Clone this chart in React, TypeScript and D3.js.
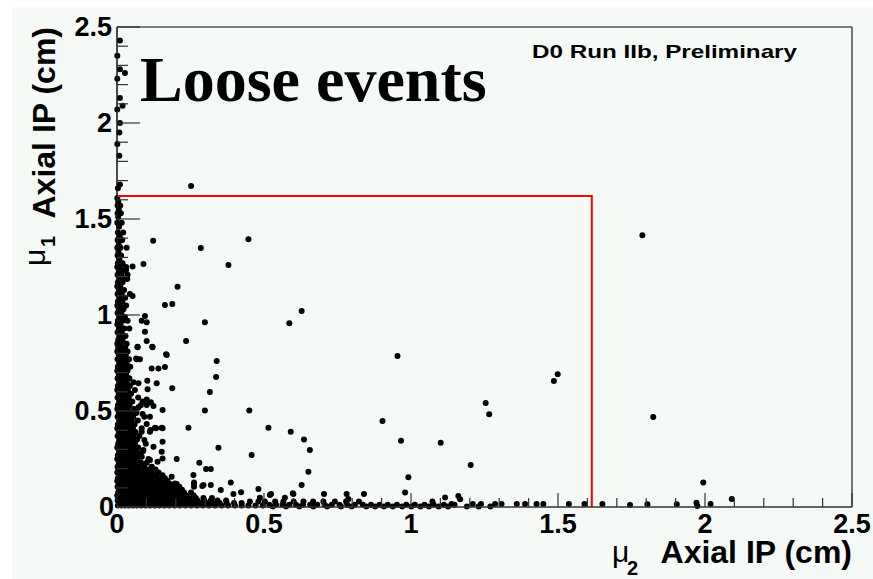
import React from 'react';
import * as d3 from 'd3';

const W = 873;
const H = 579;

const xTickValues = [0, 0.5, 1, 1.5, 2, 2.5];
const xTickLabels = ['0', '0.5', '1', '1.5', '2', '2.5'];
const yTickValues = [0, 0.5, 1, 1.5, 2, 2.5];
const yTickLabels = ['0', '0.5', '1', '1.5', '2', '2.5'];

const cutX = 1.615;
const cutY = 1.62;

const chartTitle = 'Loose events';
const experimentLabel = 'D0 Run IIb, Preliminary';
const xTitle = 'Axial IP (cm)';
const yTitle = 'Axial IP (cm)';

// sparse points along the mu1 axis above the cut
const axisTop: [number, number][] = [
  [0.010, 2.43], [0.001, 2.35], [0.010, 2.28], [0.027, 2.26], [0.001, 2.23],
  [0.010, 2.13], [0.019, 2.09], [0.001, 2.07], [0.010, 2.0], [0.008, 1.95],
  [0.001, 1.89], [0.008, 1.83], [0.010, 1.68], [0.003, 1.66], [0.252, 1.672],
];

// dense region near the axes: [mu1 IP, list of mu2 IP values]
const denseRows: [number, number[]][] = [
  [1.61, [0.001]], [1.59, [0.004]], [1.57, [0.002, 0.011]], [1.55, [0.006]],
  [1.53, [0.002, 0.013]], [1.51, [0.004]], [1.48, [0.001, 0.016]], [1.46, [0.007]],
  [1.43, [0.003, 0.021]], [1.41, [0.009]], [1.39, [0.002, 0.018]], [1.37, [0.006]],
  [1.35, [0.001, 0.012, 0.033]], [1.33, [0.005]], [1.31, [0.002, 0.014]], [1.29, [0.008]],
  [1.27, [0.003, 0.019]], [1.25, [0.001, 0.011, 0.031]], [1.23, [0.006, 0.024]],
  [1.21, [0.002, 0.015, 0.036]], [1.19, [0.008, 0.027]], [1.17, [0.003, 0.019]],
  [1.15, [0.001, 0.011]], [1.13, [0.006, 0.024]], [1.11, [0.002, 0.016, 0.044]],
  [1.09, [0.009, 0.028]], [1.07, [0.003, 0.018]], [1.05, [0.001, 0.012, 0.031]],
  [1.03, [0.006, 0.022]], [1.01, [0.002, 0.015]], [0.99, [0.009, 0.027]],
  [0.97, [0.003, 0.019, 0.036]], [0.95, [0.001, 0.012]], [0.93, [0.007, 0.025, 0.042]],
  [0.91, [0.002, 0.016]], [0.89, [0.010, 0.029]], [0.87, [0.004, 0.019]],
  [0.85, [0.001, 0.013, 0.033]],
  [0.83, [0.004, 0.016, 0.028]], [0.81, [0.001, 0.010, 0.022, 0.036]],
  [0.79, [0.006, 0.018, 0.030]], [0.77, [0.002, 0.013, 0.025, 0.041]],
  [0.75, [0.008, 0.020, 0.033]], [0.73, [0.003, 0.015, 0.027, 0.045]],
  [0.71, [0.001, 0.010, 0.022, 0.036]], [0.69, [0.006, 0.018, 0.031]],
  [0.67, [0.002, 0.013, 0.025, 0.042]], [0.65, [0.008, 0.020, 0.034, 0.056]],
  [0.63, [0.003, 0.015, 0.027, 0.044]], [0.61, [0.001, 0.011, 0.023, 0.037, 0.061]],
  [0.59, [0.006, 0.018, 0.030, 0.048]], [0.57, [0.002, 0.013, 0.026, 0.040, 0.072]],
  [0.55, [0.008, 0.020, 0.034, 0.052]], [0.53, [0.003, 0.015, 0.028, 0.043, 0.081]],
  [0.51, [0.001, 0.011, 0.023, 0.037, 0.058]], [0.49, [0.006, 0.018, 0.031, 0.047, 0.066]],
  [0.47, [0.002, 0.014, 0.026, 0.040, 0.055, 0.093]], [0.45, [0.008, 0.021, 0.035, 0.050, 0.071]],
  [0.43, [0.003, 0.016, 0.029, 0.043, 0.060]], [0.41, [0.001, 0.011, 0.024, 0.038, 0.054, 0.084]],
  [0.39, [0.006, 0.019, 0.032, 0.047, 0.063]], [0.37, [0.002, 0.014, 0.027, 0.041, 0.057, 0.076]],
  [0.35, [0.009, 0.022, 0.036, 0.051, 0.068]], [0.33, [0.004, 0.017, 0.030, 0.045, 0.061, 0.098]],
  [0.31, [0.001, 0.012, 0.025, 0.039, 0.054, 0.072]], [0.29, [0.007, 0.020, 0.034, 0.049, 0.066, 0.088]],
  [0.27, [0.003, 0.015, 0.028, 0.043, 0.059, 0.078]], [0.25, [0.001, 0.010, 0.023, 0.037, 0.052, 0.069, 0.107]],
  [0.23, [0.006, 0.018, 0.032, 0.047, 0.063, 0.082, 0.101]],
  [0.21, [0.002, 0.014, 0.027, 0.041, 0.057, 0.074, 0.093, 0.118]],
  [0.195, [0.005, 0.017, 0.030, 0.044, 0.059, 0.075, 0.092, 0.110, 0.131]],
  [0.18, [0.001, 0.011, 0.024, 0.038, 0.052, 0.067, 0.083, 0.100, 0.119, 0.142]],
  [0.165, [0.007, 0.020, 0.033, 0.047, 0.062, 0.078, 0.095, 0.113, 0.133, 0.155]],
  [0.15, [0.003, 0.015, 0.028, 0.042, 0.056, 0.071, 0.087, 0.104, 0.122, 0.141, 0.163]],
  [0.135, [0.001, 0.010, 0.023, 0.036, 0.050, 0.065, 0.080, 0.096, 0.113, 0.131, 0.150, 0.172]],
  [0.12, [0.006, 0.018, 0.031, 0.045, 0.059, 0.074, 0.089, 0.105, 0.122, 0.140, 0.159, 0.181, 0.203]],
  [0.105, [0.002, 0.013, 0.026, 0.039, 0.053, 0.067, 0.082, 0.097, 0.113, 0.130, 0.148, 0.167, 0.188, 0.212]],
  [0.09, [0.008, 0.020, 0.033, 0.047, 0.061, 0.075, 0.090, 0.106, 0.122, 0.139, 0.157, 0.176, 0.196, 0.221]],
  [0.075, [0.004, 0.015, 0.028, 0.041, 0.055, 0.069, 0.084, 0.099, 0.115, 0.131, 0.148, 0.166, 0.185, 0.205, 0.228, 0.252]],
  [0.06, [0.001, 0.011, 0.023, 0.036, 0.049, 0.063, 0.077, 0.092, 0.107, 0.123, 0.140, 0.157, 0.175, 0.194, 0.214, 0.236, 0.261]],
  [0.047, [0.006, 0.018, 0.031, 0.044, 0.058, 0.072, 0.086, 0.101, 0.117, 0.133, 0.149, 0.166, 0.184, 0.203, 0.223, 0.244, 0.268, 0.294, 0.323]],
  [0.034, [0.002, 0.014, 0.026, 0.039, 0.052, 0.066, 0.080, 0.095, 0.110, 0.125, 0.141, 0.158, 0.175, 0.193, 0.212, 0.231, 0.252, 0.274, 0.297, 0.319, 0.342, 0.371]],
  [0.021, [0.008, 0.020, 0.033, 0.046, 0.060, 0.074, 0.088, 0.103, 0.118, 0.134, 0.150, 0.167, 0.184, 0.202, 0.221, 0.240, 0.260, 0.281, 0.303, 0.326, 0.349, 0.373, 0.398, 0.424]],
  [0.008, [0.003, 0.015, 0.027, 0.040, 0.054, 0.068, 0.082, 0.097, 0.112, 0.128, 0.144, 0.161, 0.178, 0.196, 0.214, 0.233, 0.252, 0.272, 0.292, 0.313, 0.334, 0.356, 0.378, 0.401, 0.424, 0.447, 0.471, 0.496]],
  [0.028, [0.452, 0.481, 0.503, 0.538, 0.566, 0.601, 0.634, 0.667, 0.702, 0.741, 0.779, 0.823]],
  [0.012, [0.518, 0.541, 0.563, 0.586, 0.609, 0.633, 0.657, 0.681, 0.706, 0.731, 0.757, 0.783, 0.809, 0.836, 0.864, 0.893, 0.921, 0.952, 0.984, 1.013, 1.046, 1.077, 1.112, 1.148]],
  [0.003, [0.530, 0.575, 0.620, 0.668, 0.715, 0.762, 0.798, 0.848, 0.878, 0.908, 0.938, 0.970, 1.001, 1.032, 1.061, 1.094, 1.126, 1.19, 1.23, 1.27]],
  [0.015, [1.138, 1.210, 1.238, 1.286, 1.308, 1.360, 1.388, 1.427, 1.450, 1.537, 1.59]],
];

// isolated events: [mu2 IP, mu1 IP]
const scattered: [number, number][] = [
  [0.123, 1.387], [0.285, 1.349], [0.379, 1.26], [0.090, 1.266], [0.053, 1.252], [0.206, 1.147],
  [0.163, 1.052], [0.188, 1.057], [0.299, 0.962], [0.095, 0.995], [0.101, 0.962], [0.084, 0.970],
  [0.095, 0.913], [0.235, 0.865], [0.101, 0.865], [0.070, 0.835], [0.120, 0.835], [0.053, 1.099],
  [0.031, 1.234], [0.035, 1.188], [0.447, 1.394], [0.628, 1.021], [0.586, 0.957], [0.339, 0.760],
  [0.337, 0.677], [0.316, 0.599], [0.299, 0.502], [0.450, 0.503], [0.515, 0.413], [0.243, 0.413],
  [0.167, 0.795], [0.163, 0.729], [0.188, 0.618], [0.135, 0.644], [0.103, 0.658], [0.118, 0.722],
  [0.141, 0.722], [0.121, 0.832], [0.070, 0.832], [0.067, 0.769], [0.078, 0.769], [0.104, 0.613],
  [0.155, 0.505], [0.124, 0.526], [0.101, 0.531], [0.112, 0.470], [0.087, 0.484], [0.591, 0.392],
  [0.636, 0.352], [0.656, 0.297], [0.651, 0.184], [0.628, 0.115], [0.598, 0.071], [0.345, 0.309],
  [0.458, 0.271], [0.280, 0.231], [0.303, 0.198], [0.319, 0.198], [0.260, 0.167], [0.203, 0.250],
  [0.262, 0.127], [0.262, 0.106], [0.294, 0.115], [0.319, 0.115], [0.387, 0.128], [0.353, 0.089],
  [0.481, 0.094], [0.524, 0.068], [0.600, 0.068], [0.704, 0.068], [0.781, 0.068], [0.840, 0.068],
  [0.980, 0.075], [0.954, 0.786], [0.903, 0.448], [0.966, 0.345], [1.101, 0.335], [0.991, 0.155],
  [1.203, 0.219], [1.116, 0.050], [1.161, 0.057], [1.167, 0.040], [0.152, 0.413], [0.129, 0.413],
  [0.112, 0.392], [0.101, 0.432], [0.422, 0.077], [0.396, 0.068], [0.571, 0.048], [0.787, 0.042],
  [0.486, 0.048], [0.520, 0.062], [1.073, 0.028], [1.499, 0.691], [1.486, 0.656], [1.254, 0.542],
  [1.266, 0.483], [1.787, 1.415], [1.824, 0.469], [1.994, 0.127], [1.651, 0.016], [1.745, 0.010],
  [1.804, 0.014], [1.904, 0.014], [1.971, 0.022], [1.974, 0.005], [2.019, 0.016], [2.091, 0.042],
  [0.169, 0.792], [0.065, 0.774], [0.073, 0.644], [0.087, 0.55], [0.101, 0.56], [0.115, 0.545],
  [0.073, 0.52], [0.133, 0.41], [0.155, 0.41], [0.114, 0.401], [0.084, 0.392], [0.093, 0.349],
  [0.155, 0.34], [0.124, 0.314], [0.152, 0.288], [0.155, 0.253], [0.138, 0.236], [0.112, 0.245],
  [0.118, 0.21], [0.084, 0.262], [0.073, 0.28], [0.090, 0.297], [0.186, 0.158], [0.197, 0.123],
  [0.209, 0.097], [0.22, 0.071], [0.29, 0.11], [0.262, 0.12],
];

const xScale = d3.scaleLinear().domain([0, 2.5]).range([117, 852]);
const yScale = d3.scaleLinear().domain([0, 2.5]).range([507, 27]);

export default function App() {
  const points: [number, number][] = [
    ...axisTop,
    ...denseRows.flatMap(([yv, xs]) => xs.map((xv) => [xv, yv] as [number, number])),
    ...scattered,
  ];
  const minorTicks = xScale.ticks(25);
  const [x0, x1] = xScale.range();
  const [y0, y1] = yScale.range();
  const sans = '"Liberation Sans", Arial, Helvetica, sans-serif';
  const serif = '"Liberation Serif", "Times New Roman", serif';
  const isMajor = (v: number) => Math.abs(v * 2 - Math.round(v * 2)) < 1e-6;

  return (
    <svg width={W} height={H} style={{ position: 'absolute', left: 0, top: 0 }}>
      <rect x={0} y={0} width={W} height={H} fill="#ffffff" />
      <rect x={12} y={7} width={W - 12} height={H - 7} fill="#f5faf7" />

      {/* frame */}
      <line x1={x0} x2={x1} y1={y1} y2={y1} stroke="#555" strokeWidth={1.6} />
      <line x1={x1} x2={x1} y1={y1} y2={y0} stroke="#555" strokeWidth={1.6} />

      {/* markers */}
      <g fill="#000">
        {points.map(([xv, yv], i) => (
          <circle key={i} cx={xScale(xv)} cy={yScale(yv)} r={3} />
        ))}
      </g>

      {/* cut lines */}
      <path
        d={`M${xScale(0)},${yScale(cutY)}H${xScale(cutX)}V${yScale(0)}`}
        fill="none"
        stroke="#ff0000"
        strokeWidth={2}
      />

      {/* x axis */}
      <line x1={x0} x2={x1} y1={y0} y2={y0} stroke="#333" strokeWidth={1.5} />
      {minorTicks.map((v, i) => (
        <line
          key={'xt' + i}
          x1={xScale(v)}
          x2={xScale(v)}
          y1={y0}
          y2={y0 - (isMajor(v) ? 14 : 9)}
          stroke="#333"
          strokeWidth={1.2}
        />
      ))}
      {xTickValues.map((v, i) => (
        <text
          key={'xl' + i}
          x={xScale(v)}
          y={533}
          textAnchor="middle"
          fontFamily={sans}
          fontWeight="bold"
          fontSize={27}
          fill="#000"
        >
          {xTickLabels[i]}
        </text>
      ))}

      {/* y axis */}
      <line x1={x0} x2={x0} y1={y0} y2={y1} stroke="#111" strokeWidth={1.5} />
      {yScale.ticks(25).map((v, i) => (
        <line
          key={'yt' + i}
          x1={x0}
          x2={x0 + (isMajor(v) ? 23 : 11)}
          y1={yScale(v)}
          y2={yScale(v)}
          stroke="#333"
          strokeWidth={1.2}
        />
      ))}
      {yTickValues.map((v, i) => (
        <text
          key={'yl' + i}
          x={v === 0 ? 114 : 112}
          y={yScale(v) + 9}
          textAnchor="end"
          fontFamily={sans}
          fontWeight="bold"
          fontSize={27}
          fill="#000"
        >
          {yTickLabels[i]}
        </text>
      ))}

      {/* x title */}
      <text x={852} y={563} textAnchor="end" fontFamily={sans} fontWeight="bold" fontSize={32} fill="#000">
        {xTitle}
      </text>
      <text x={612} y={562} fontFamily={sans} fontSize={30} fill="#000">μ</text>
      <text x={627} y={575} fontFamily={sans} fontWeight="bold" fontSize={20} fill="#000">2</text>

      {/* y title */}
      <g transform={`translate(55, 27) rotate(-90)`}>
        <text x={0} y={0} textAnchor="end" fontFamily={sans} fontWeight="bold" fontSize={32} fill="#000">
          {yTitle}
        </text>
        <text x={-239} y={-10} fontFamily={sans} fontSize={30} fill="#000">μ</text>
        <text x={-220} y={0} fontFamily={sans} fontWeight="bold" fontSize={20} fill="#000">1</text>
      </g>

      {/* labels */}
      <text x={140} y={101} fontFamily={serif} fontWeight="bold" fontSize={64} fill="#000">
        {chartTitle}
      </text>
      <text
        x={532}
        y={58}
        fontFamily={sans}
        fontWeight="bold"
        fontSize={19}
        textLength={265}
        lengthAdjust="spacingAndGlyphs"
        fill="#000"
      >
        {experimentLabel}
      </text>
    </svg>
  );
}
